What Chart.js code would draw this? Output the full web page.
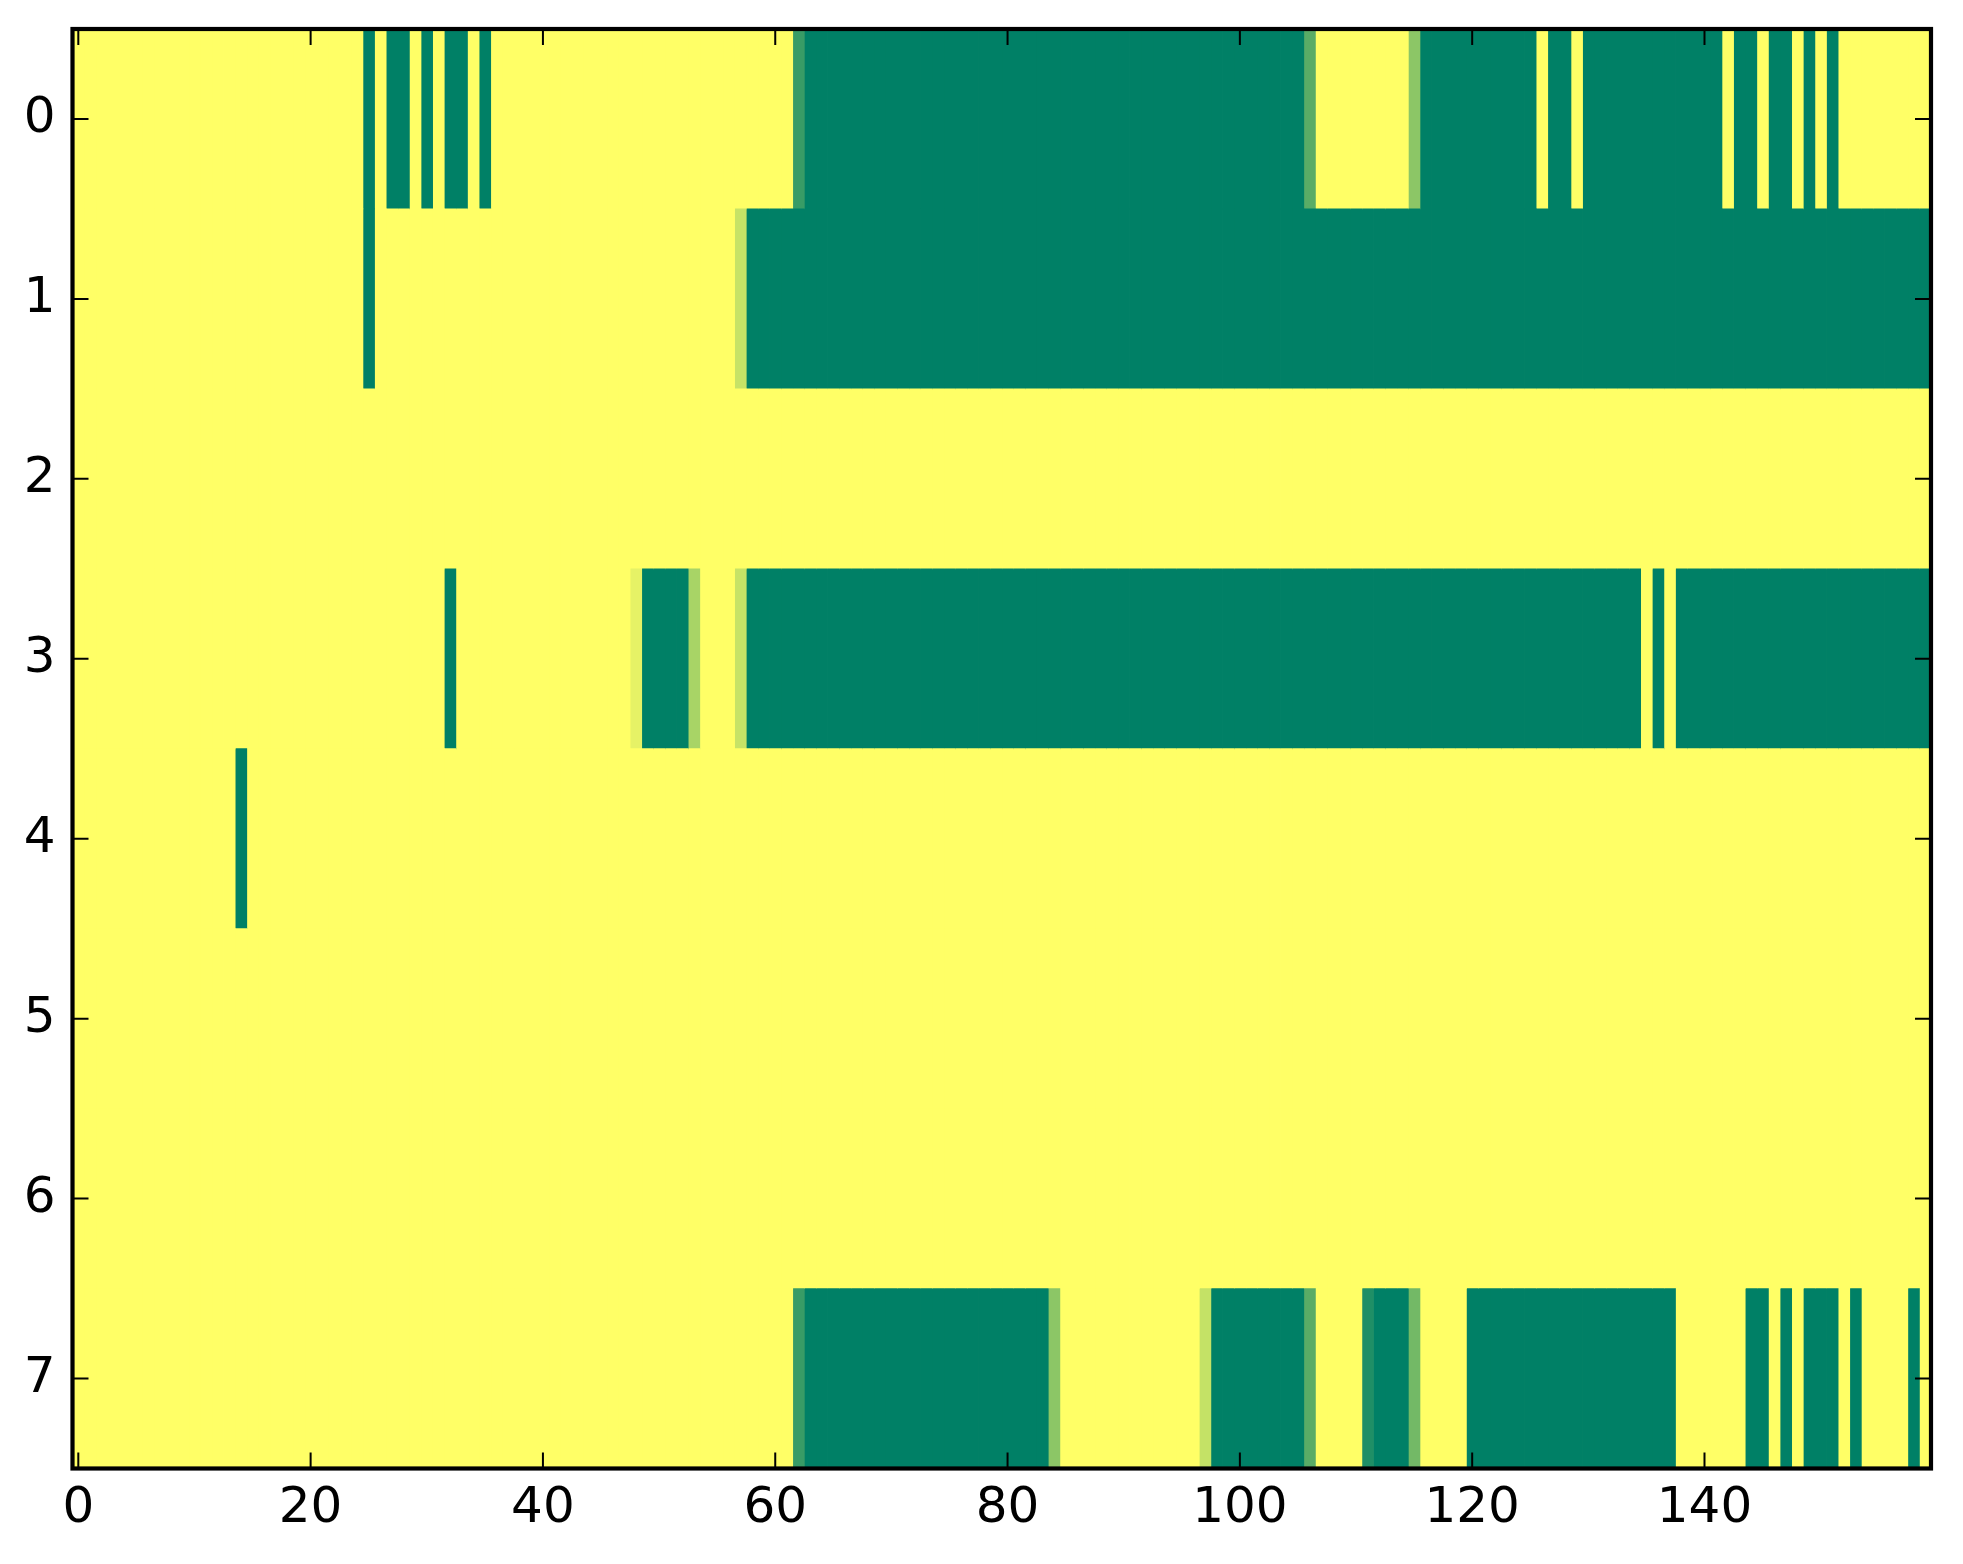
<!DOCTYPE html>
<html>
<head>
<meta charset="utf-8">
<script src="https://cdn.jsdelivr.net/npm/chart.js@4.4.1/dist/chart.umd.min.js"></script>
<style>
  html, body { margin: 0; padding: 0; background: #ffffff; }
  canvas { display: block; }
</style>
</head>
<body>
<canvas id="heatmap" width="1963" height="1564"></canvas>
<script>
// row labels (y axis) and x tick labels
const rowLabels = ["0", "1", "2", "3", "4", "5", "6", "7"];
const xTicks = [0, 20, 40, 60, 80, 100, 120, 140];
const nCols = 160;

// cell values, normalised 0..1 (0 = dark green, 1 = yellow), 160 per row
const row0 = [
  1,1,1,1,1,1,1,1,1,1,1,1,1,1,1,1,1,1,1,1,
  1,1,1,1,1,0,1,0,0,1,0,1,0,0,1,0,1,1,1,1,
  1,1,1,1,1,1,1,1,1,1,1,1,1,1,1,1,1,1,1,1,
  1,1,0.22,0,0,0,0,0,0,0,0,0,0,0,0,0,0,0,0,0,
  0,0,0,0,0,0,0,0,0,0,0,0,0,0,0,0,0,0,0,0,
  0,0,0,0,0,0,0.35,1,1,1,1,1,1,1,1,0.55,0,0,0,0,
  0,0,0,0,0,0,1,0,0,1,0,0,0,0,0,0,0,0,0,0,
  0,0,1,0,0,1,0,0,1,0,1,0,1,1,1,1,1,1,1,1
];
const row1 = [
  1,1,1,1,1,1,1,1,1,1,1,1,1,1,1,1,1,1,1,1,
  1,1,1,1,1,0,1,1,1,1,1,1,1,1,1,1,1,1,1,1,
  1,1,1,1,1,1,1,1,1,1,1,1,1,1,1,1,1,0.78,0,0,
  0,0,0,0,0,0,0,0,0,0,0,0,0,0,0,0,0,0,0,0,
  0,0,0,0,0,0,0,0,0,0,0,0,0,0,0,0,0,0,0,0,
  0,0,0,0,0,0,0,0,0,0,0,0,0,0,0,0,0,0,0,0,
  0,0,0,0,0,0,0,0,0,0,0,0,0,0,0,0,0,0,0,0,
  0,0,0,0,0,0,0,0,0,0,0,0,0,0,0,0,0,0,0,0
];
const row2 = [
  1,1,1,1,1,1,1,1,1,1,1,1,1,1,1,1,1,1,1,1,
  1,1,1,1,1,1,1,1,1,1,1,1,1,1,1,1,1,1,1,1,
  1,1,1,1,1,1,1,1,1,1,1,1,1,1,1,1,1,1,1,1,
  1,1,1,1,1,1,1,1,1,1,1,1,1,1,1,1,1,1,1,1,
  1,1,1,1,1,1,1,1,1,1,1,1,1,1,1,1,1,1,1,1,
  1,1,1,1,1,1,1,1,1,1,1,1,1,1,1,1,1,1,1,1,
  1,1,1,1,1,1,1,1,1,1,1,1,1,1,1,1,1,1,1,1,
  1,1,1,1,1,1,1,1,1,1,1,1,1,1,1,1,1,1,1,1
];
const row3 = [
  1,1,1,1,1,1,1,1,1,1,1,1,1,1,1,1,1,1,1,1,
  1,1,1,1,1,1,1,1,1,1,1,1,0,1,1,1,1,1,1,1,
  1,1,1,1,1,1,1,1,0.9,0,0,0,0,0.66,1,1,1,0.78,0,0,
  0,0,0,0,0,0,0,0,0,0,0,0,0,0,0,0,0,0,0,0,
  0,0,0,0,0,0,0,0,0,0,0,0,0,0,0,0,0,0,0,0,
  0,0,0,0,0,0,0,0,0,0,0,0,0,0,0,0,0,0,0,0,
  0,0,0,0,0,0,0,0,0,0,0,0,0,0,0,1,0,1,0,0,
  0,0,0,0,0,0,0,0,0,0,0,0,0,0,0,0,0,0,0,0
];
const row4 = [
  1,1,1,1,1,1,1,1,1,1,1,1,1,1,0,1,1,1,1,1,
  1,1,1,1,1,1,1,1,1,1,1,1,1,1,1,1,1,1,1,1,
  1,1,1,1,1,1,1,1,1,1,1,1,1,1,1,1,1,1,1,1,
  1,1,1,1,1,1,1,1,1,1,1,1,1,1,1,1,1,1,1,1,
  1,1,1,1,1,1,1,1,1,1,1,1,1,1,1,1,1,1,1,1,
  1,1,1,1,1,1,1,1,1,1,1,1,1,1,1,1,1,1,1,1,
  1,1,1,1,1,1,1,1,1,1,1,1,1,1,1,1,1,1,1,1,
  1,1,1,1,1,1,1,1,1,1,1,1,1,1,1,1,1,1,1,1
];
const row5 = [
  1,1,1,1,1,1,1,1,1,1,1,1,1,1,1,1,1,1,1,1,
  1,1,1,1,1,1,1,1,1,1,1,1,1,1,1,1,1,1,1,1,
  1,1,1,1,1,1,1,1,1,1,1,1,1,1,1,1,1,1,1,1,
  1,1,1,1,1,1,1,1,1,1,1,1,1,1,1,1,1,1,1,1,
  1,1,1,1,1,1,1,1,1,1,1,1,1,1,1,1,1,1,1,1,
  1,1,1,1,1,1,1,1,1,1,1,1,1,1,1,1,1,1,1,1,
  1,1,1,1,1,1,1,1,1,1,1,1,1,1,1,1,1,1,1,1,
  1,1,1,1,1,1,1,1,1,1,1,1,1,1,1,1,1,1,1,1
];
const row6 = [
  1,1,1,1,1,1,1,1,1,1,1,1,1,1,1,1,1,1,1,1,
  1,1,1,1,1,1,1,1,1,1,1,1,1,1,1,1,1,1,1,1,
  1,1,1,1,1,1,1,1,1,1,1,1,1,1,1,1,1,1,1,1,
  1,1,1,1,1,1,1,1,1,1,1,1,1,1,1,1,1,1,1,1,
  1,1,1,1,1,1,1,1,1,1,1,1,1,1,1,1,1,1,1,1,
  1,1,1,1,1,1,1,1,1,1,1,1,1,1,1,1,1,1,1,1,
  1,1,1,1,1,1,1,1,1,1,1,1,1,1,1,1,1,1,1,1,
  1,1,1,1,1,1,1,1,1,1,1,1,1,1,1,1,1,1,1,1
];
const row7 = [
  1,1,1,1,1,1,1,1,1,1,1,1,1,1,1,1,1,1,1,1,
  1,1,1,1,1,1,1,1,1,1,1,1,1,1,1,1,1,1,1,1,
  1,1,1,1,1,1,1,1,1,1,1,1,1,1,1,1,1,1,1,1,
  1,1,0.22,0,0,0,0,0,0,0,0,0,0,0,0,0,0,0,0,0,
  0,0,0,0,0.55,1,1,1,1,1,1,1,1,1,1,1,1,0.77,0,0,
  0,0,0,0,0,0,0.35,1,1,1,1,0.12,0,0,0,0.45,1,1,1,1,
  0,0,0,0,0,0,0,0,0,0,0,0,0,0,0,0,0,0,1,1,
  1,1,1,1,0,0,1,0,1,0,0,0,1,0,1,1,1,1,0,1
];
const rows = [row0, row1, row2, row3, row4, row5, row6, row7];

// matplotlib "summer" colormap: (v, 0.5 + v/2, 0.4)
function summer(v) {
  const r = Math.round(255 * v);
  const g = Math.round(255 * (0.5 + 0.5 * v));
  return `rgb(${r},${g},102)`;
}

// one dataset per column, each cell a floating bar [c-0.5, c+0.5]
const datasets = [];
for (let c = 0; c < nCols; c++) {
  datasets.push({
    data: rows.map(() => [c - 0.5, c + 0.5]),
    backgroundColor: rows.map((row) => summer(row[c])),
    borderWidth: 0,
    barPercentage: 1,
    categoryPercentage: 1,
    grouped: false,
    inflateAmount: 0.4,
  });
}

const tickFont = { family: "DejaVu Sans", size: 50 };

// frame and inward ticks on all four sides, like matplotlib classic
const framePlugin = {
  id: "frame",
  afterDraw(chart) {
    const { ctx, chartArea: a, scales } = chart;
    ctx.save();
    ctx.strokeStyle = "#000";
    ctx.lineWidth = 2;
    const tl = 16;
    ctx.beginPath();
    xTicks.forEach((v) => {
      const px = scales.x.getPixelForValue(v);
      ctx.moveTo(px, a.bottom);
      ctx.lineTo(px, a.bottom - tl);
      ctx.moveTo(px, a.top);
      ctx.lineTo(px, a.top + tl);
    });
    rowLabels.forEach((lab, i) => {
      const py = scales.y.getPixelForValue(i);
      ctx.moveTo(a.left, py);
      ctx.lineTo(a.left + tl, py);
      ctx.moveTo(a.right, py);
      ctx.lineTo(a.right - tl, py);
    });
    ctx.stroke();
    ctx.lineWidth = 4.2;
    ctx.strokeRect(a.left, a.top, a.right - a.left, a.bottom - a.top);
    ctx.restore();
  },
};

const ctx = document.getElementById("heatmap").getContext("2d");
const chart = new Chart(ctx, {
  type: "bar",
  data: { labels: rowLabels, datasets: datasets },
  options: {
    indexAxis: "y",
    responsive: false,
    animation: false,
    devicePixelRatio: 1,
    layout: { padding: { left: 0, top: 29, right: 32, bottom: 0 } },
    plugins: { legend: { display: false }, tooltip: { enabled: false } },
    scales: {
      x: {
        type: "linear",
        position: "bottom",
        min: -0.5,
        max: 159.5,
        grid: { display: false, drawTicks: false },
        border: { display: false },
        afterBuildTicks: (scale) => {
          scale.ticks = xTicks.map((v) => ({ value: v }));
        },
        afterFit: (scale) => {
          scale.height = 95.5;
          scale.paddingLeft = 0;
          scale.paddingRight = 0;
        },
        ticks: {
          autoSkip: false,
          maxRotation: 0,
          padding: 11,
          color: "#000",
          font: tickFont,
        },
      },
      y: {
        type: "category",
        position: "left",
        offset: true,
        grid: { display: false, drawTicks: false },
        border: { display: false },
        afterFit: (scale) => {
          scale.width = 72.5;
          scale.paddingTop = 0;
          scale.paddingBottom = 0;
        },
        ticks: {
          autoSkip: false,
          padding: 17,
          color: "#000",
          font: tickFont,
        },
      },
    },
  },
  plugins: [framePlugin],
});
</script>
</body>
</html>
